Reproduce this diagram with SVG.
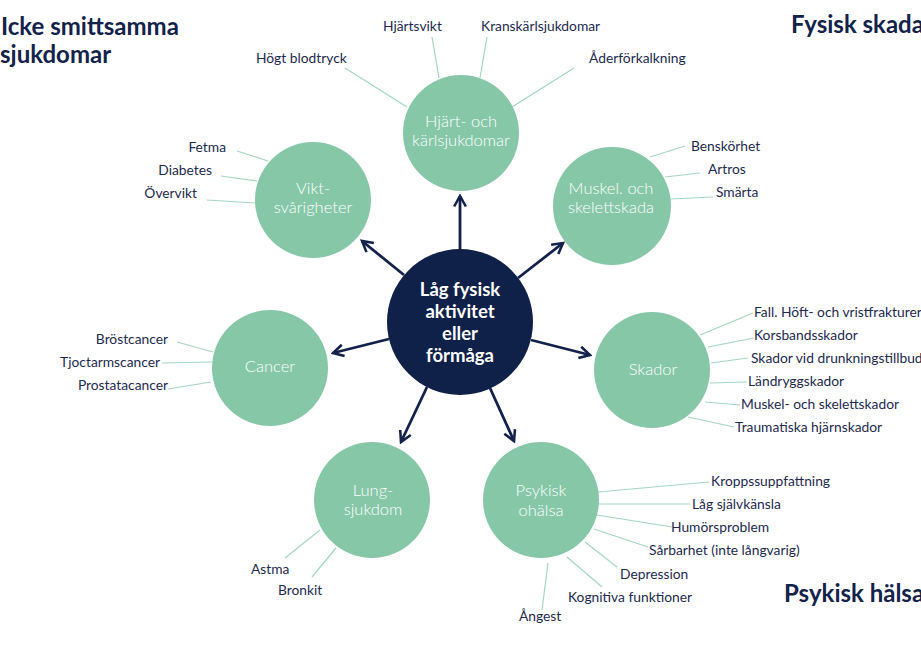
<svg xmlns="http://www.w3.org/2000/svg" width="921" height="651" viewBox="0 0 921 651">
<style>
.title{font-family:Lato,"Liberation Sans",sans-serif;font-weight:700;font-size:24px;fill:#13224b}
.lbl{font-family:Lato,"Liberation Sans",sans-serif;font-size:13.8px;fill:#1e2a50}
.end{text-anchor:end}
.g{fill:#86c7a8}
.gt{font-family:Lato,"Liberation Sans",sans-serif;font-weight:300;font-size:16.5px;fill:#ffffff;text-anchor:middle}
.ct{font-family:Lato,"Liberation Sans",sans-serif;font-weight:700;font-size:18.5px;fill:#ffffff;text-anchor:middle}
.lead{stroke:#a3d7bf;stroke-width:1.2;fill:none}
.arr{stroke:#13224b;stroke-width:2.8;fill:none;marker-end:url(#ah)}
</style>
<defs>
<marker id="ah" viewBox="0 0 12 12" refX="10" refY="6" markerWidth="5" markerHeight="5" orient="auto" markerUnits="strokeWidth">
<polyline points="1,1 10,6 1,11" fill="none" stroke="#13224b" stroke-width="2.2"/>
</marker>
</defs>
<rect width="921" height="651" fill="#ffffff"/>

<g id="titles">
<text class="title" x="1" y="35">Icke smittsamma</text>
<text class="title" x="0" y="63">sjukdomar</text>
<text class="title" x="791" y="33">Fysisk skada</text>
<text class="title" x="784" y="602">Psykisk hälsa</text>
</g>

<g id="connectors">
<line class="arr" x1="460" y1="252" x2="460" y2="196"/>
<line class="arr" x1="404" y1="275" x2="362" y2="241"/>
<line class="arr" x1="518" y1="278" x2="563" y2="243"/>
<line class="arr" x1="389" y1="339" x2="333" y2="353"/>
<line class="arr" x1="531" y1="340" x2="590" y2="355"/>
<line class="arr" x1="427" y1="387" x2="401" y2="442"/>
<line class="arr" x1="490" y1="388" x2="514" y2="441"/>
</g>

<g id="leaders">
<line class="lead" x1="345" y1="68" x2="407" y2="107"/>
<line class="lead" x1="432" y1="37" x2="439" y2="78"/>
<line class="lead" x1="487" y1="37" x2="480" y2="78"/>
<line class="lead" x1="574" y1="68" x2="512" y2="107"/>
<line class="lead" x1="237" y1="151" x2="268" y2="161"/>
<line class="lead" x1="221" y1="176" x2="257" y2="181"/>
<line class="lead" x1="207" y1="200" x2="255" y2="203"/>
<line class="lead" x1="685" y1="146" x2="650" y2="157"/>
<line class="lead" x1="700" y1="173" x2="665" y2="177"/>
<line class="lead" x1="713" y1="197" x2="670" y2="199"/>
<line class="lead" x1="753" y1="313" x2="700" y2="335"/>
<line class="lead" x1="754" y1="338" x2="708" y2="347"/>
<line class="lead" x1="748" y1="358" x2="711" y2="363"/>
<line class="lead" x1="747" y1="382" x2="710" y2="383"/>
<line class="lead" x1="740" y1="405" x2="705" y2="402"/>
<line class="lead" x1="734" y1="427" x2="688" y2="417"/>
<line class="lead" x1="177" y1="342" x2="213" y2="352"/>
<line class="lead" x1="162" y1="363" x2="212" y2="362"/>
<line class="lead" x1="168" y1="389" x2="211" y2="382"/>
<line class="lead" x1="285" y1="558" x2="320" y2="530"/>
<line class="lead" x1="312" y1="577" x2="336" y2="548"/>
<line class="lead" x1="709" y1="482" x2="598" y2="492"/>
<line class="lead" x1="690" y1="504" x2="598" y2="504"/>
<line class="lead" x1="672" y1="527" x2="597" y2="515"/>
<line class="lead" x1="648" y1="547" x2="594" y2="529"/>
<line class="lead" x1="617" y1="567" x2="585" y2="542"/>
<line class="lead" x1="602" y1="587" x2="567" y2="557"/>
<line class="lead" x1="542" y1="610" x2="548" y2="563"/>
</g>

<g id="center">
<circle cx="460" cy="322" r="73" fill="#0f2049"/>
<text class="ct" x="460" y="296">Låg fysisk</text>
<text class="ct" x="460" y="318">aktivitet</text>
<text class="ct" x="460" y="340">eller</text>
<text class="ct" x="460" y="362">förmåga</text>
</g>

<g id="hjart">
<circle class="g" cx="461" cy="133" r="58"/>
<text class="gt" x="461" y="127">Hjärt- och</text>
<text class="gt" x="461" y="146">kärlsjukdomar</text>
<text class="lbl" x="256" y="63">Högt blodtryck</text>
<text class="lbl" x="383" y="31">Hjärtsvikt</text>
<text class="lbl" x="481" y="31">Kranskärlsjukdomar</text>
<text class="lbl" x="589" y="63">Åderförkalkning</text>
</g>

<g id="vikt">
<circle class="g" cx="313" cy="200" r="58"/>
<text class="gt" x="313" y="194">Vikt-</text>
<text class="gt" x="313" y="213">svårigheter</text>
<text class="lbl end" x="226" y="152">Fetma</text>
<text class="lbl end" x="212" y="175">Diabetes</text>
<text class="lbl end" x="197" y="198">Övervikt</text>
</g>

<g id="muskel">
<circle class="g" cx="612" cy="206" r="59"/>
<text class="gt" x="611" y="194">Muskel. och</text>
<text class="gt" x="611" y="213">skelettskada</text>
<text class="lbl" x="691" y="151">Benskörhet</text>
<text class="lbl" x="708" y="174">Artros</text>
<text class="lbl" x="716" y="197">Smärta</text>
</g>

<g id="skador">
<circle class="g" cx="652" cy="370" r="58"/>
<text class="gt" x="653" y="375">Skador</text>
<text class="lbl" x="754" y="317">Fall. Höft- och vristfrakturer</text>
<text class="lbl" x="754" y="340">Korsbandsskador</text>
<text class="lbl" x="751" y="363">Skador vid drunkningstillbud</text>
<text class="lbl" x="748" y="386">Ländryggskador</text>
<text class="lbl" x="741" y="409">Muskel- och skelettskador</text>
<text class="lbl" x="735" y="432">Traumatiska hjärnskador</text>
</g>

<g id="cancer">
<circle class="g" cx="270" cy="368" r="58"/>
<text class="gt" x="270" y="372">Cancer</text>
<text class="lbl end" x="168" y="344">Bröstcancer</text>
<text class="lbl end" x="160" y="367">Tjoctarmscancer</text>
<text class="lbl end" x="168" y="390">Prostatacancer</text>
</g>

<g id="lung">
<circle class="g" cx="372" cy="500" r="58"/>
<text class="gt" x="373" y="496">Lung-</text>
<text class="gt" x="373" y="515">sjukdom</text>
<text class="lbl" x="251" y="574">Astma</text>
<text class="lbl" x="278" y="595">Bronkit</text>
</g>

<g id="psykisk">
<circle class="g" cx="541" cy="500" r="58"/>
<text class="gt" x="541" y="496">Psykisk</text>
<text class="gt" x="541" y="516">ohälsa</text>
<text class="lbl" x="711" y="486">Kroppssuppfattning</text>
<text class="lbl" x="692" y="509">Låg självkänsla</text>
<text class="lbl" x="671" y="532">Humörsproblem</text>
<text class="lbl" x="649" y="555">Sårbarhet (inte långvarig)</text>
<text class="lbl" x="620" y="579">Depression</text>
<text class="lbl" x="568" y="602">Kognitiva funktioner</text>
<text class="lbl" x="519" y="621">Ångest</text>
</g>
</svg>
